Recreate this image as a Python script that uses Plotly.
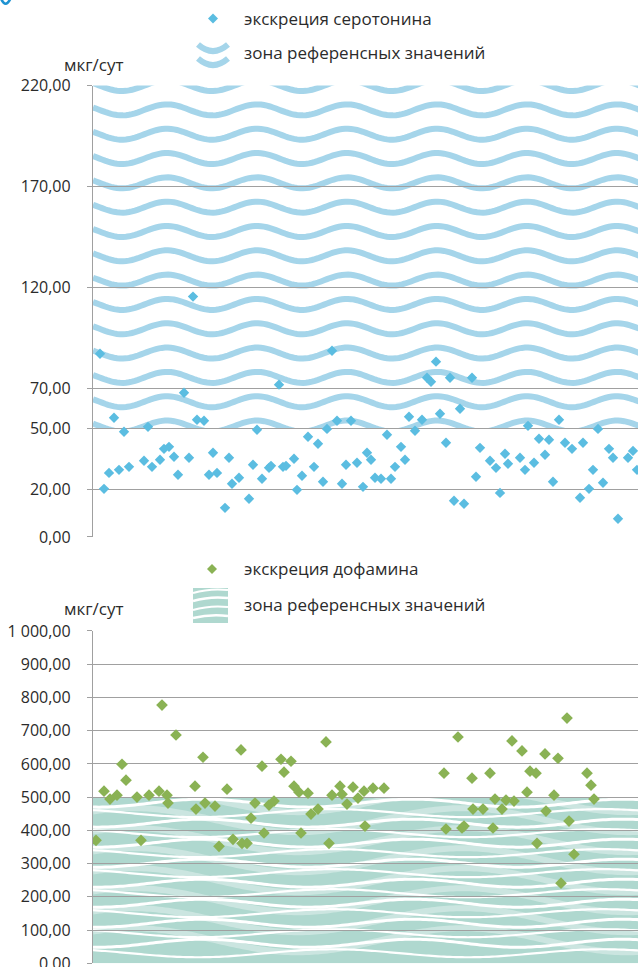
import numpy as np
import plotly.graph_objects as go

W, H = 642, 967          # reference picture size
HF = 990                 # figure height (the page is photographed slightly squeezed)
SQ, OFF = 0.977, 10.5    # observed vertical squeeze and offset of the photograph

# ---------------- data ----------------
# horizontal position of each measurement (patient position along the chart)
ser_x = [7, 11, 16, 21, 26, 31, 36, 51, 55, 59, 67, 71, 76, 81, 85, 91, 96, 100, 104,
         111, 116, 120, 124, 132, 136, 139, 146, 156, 160, 164, 169, 176, 178, 186, 190,
         193, 201, 204, 209, 215, 221, 225, 230, 234, 239, 244, 249, 253, 258, 264, 270,
         274, 278, 282, 288, 294, 298, 302, 308, 312, 316, 322, 329, 334, 338, 343, 347,
         353, 357, 361, 367, 371, 379, 383, 387, 397, 403, 407, 412, 415, 427, 432, 435,
         441, 446, 452, 456, 460, 466, 472, 479, 487, 490, 496, 500, 505, 510, 516, 520,
         525, 535, 540, 544]
ser_y = [87.2, 20.3, 28.2, 55.5, 29.7, 48.6, 31.2, 34.2, 51.0, 31.2, 34.7, 40.1, 41.1,
         36.2, 27.3, 67.9, 35.7, 115.5, 54.5, 54.0, 27.3, 38.2, 28.2, 10.9, 35.7, 22.8,
         25.8, 15.4, 32.2, 49.6, 25.3, 30.7, 31.7, 71.9, 31.2, 31.7, 35.2, 19.8, 26.8,
         46.1, 31.2, 42.6, 23.8, 50.0, 88.7, 54.0, 22.8, 32.2, 54.0, 33.2, 21.3, 38.2,
         34.7, 25.8, 25.3, 47.1, 25.3, 31.2, 41.1, 34.7, 56.0, 49.1, 54.5, 75.3, 73.3,
         83.3, 57.5, 43.1, 75.3, 14.4, 60.0, 12.9, 75.3, 26.3, 40.6, 34.2, 30.7, 18.3,
         37.7, 32.7, 35.7, 29.7, 51.5, 33.2, 45.1, 37.2, 44.6, 23.8, 54.5, 43.1, 40.1,
         15.9, 43.1, 20.3, 29.7, 50.0, 23.3, 40.1, 35.7, 5.5, 35.7, 39.1, 29.7]

dop_x = [3, 11, 17, 24, 29, 33, 44, 48, 56, 66, 69, 74, 75, 83, 102, 103, 110, 112, 122,
         126, 134, 140, 148, 149, 154, 158, 162, 169, 171, 176, 181, 188, 191, 198, 201,
         206, 208, 215, 218, 225, 233, 236, 239, 247, 249, 254, 260, 265, 271, 272, 280,
         291, 351, 353, 365, 369, 371, 379, 380, 390, 397, 400, 402, 409, 413, 419, 421,
         429, 434, 437, 443, 444, 452, 453, 461, 465, 468, 474, 476, 481, 494, 498, 501]
dop_y = [370, 518, 494, 506, 599, 551, 500, 370, 506, 518, 777, 506, 482, 687, 533, 464,
         620, 482, 473, 352, 524, 373, 642, 361, 361, 437, 482, 593, 392, 476, 488, 614,
         575, 608, 533, 515, 392, 512, 449, 464, 666, 361, 506, 533, 509, 479, 530, 497,
         518, 413, 527, 527, 572, 404, 681, 407, 413, 557, 464, 464, 572, 407, 494, 464,
         491, 669, 488, 639, 515, 578, 572, 361, 630, 458, 506, 617, 241, 738, 428, 328,
         572, 536, 494]

ser_tickvals = [-3.5, 20, 50, 70, 120, 170, 220]
ser_ticktext = ["0,00", "20,00", "50,00", "70,00", "120,00", "170,00", "220,00"]
ser_range = [-3.5, 220]
ser_ref = [50, 220]

dop_tickvals = [0, 100, 200, 300, 400, 500, 600, 700, 800, 900, 1000]
dop_ticktext = ["0,00", "100,00", "200,00", "300,00", "400,00", "500,00", "600,00",
                "700,00", "800,00", "900,00", "1 000,00"]
dop_range = [0, 1000]
dop_ref = [0, 500]

x_range = [0, 545]

unit = "мкг/сут"
leg_ser = "экскреция серотонина"
leg_dop = "экскреция дофамина"
leg_zone = "зона референсных значений"

# ---------------- styles ----------------
FONT = "Open Sans"
TXT = "#2b2b2b"
GRID = "#a0a0a0"
BLUE_PT = "#5bbde1"
BLUE_WAVE = "#a5d5ea"
GREEN_PT = "#8ab254"
TEAL = "#afd8cf"


def Y(py):
    """page pixel for a wanted picture pixel"""
    return (py - OFF) / SQ


def yp(py):
    return 1 - Y(py) / HF


def P(px, py):
    return f"{px / W:.5f},{yp(py):.5f}"


def wave_path(center, amp, period, crest, x0, x1, step=3):
    xs = np.arange(x0, x1 + step, step)
    ys = center + amp * np.cos(2 * np.pi * (xs - crest) / period)
    return "M " + " L ".join(f"{a:.2f},{b:.3f}" for a, b in zip(xs, ys))


fig = go.Figure()

fig.add_trace(go.Scatter(
    x=ser_x, y=ser_y, mode="markers", xaxis="x", yaxis="y",
    marker=dict(symbol="diamond", size=8, color=BLUE_PT, line=dict(width=0)),
    showlegend=False, hoverinfo="skip"))
fig.add_trace(go.Scatter(
    x=dop_x, y=dop_y, mode="markers", xaxis="x2", yaxis="y2",
    marker=dict(symbol="diamond", size=9, color=GREEN_PT, line=dict(width=0)),
    showlegend=False, hoverinfo="skip"))

shapes = []
x0, x1 = x_range
# --- top reference zone: blue wavy lines between 50 and 220
top_scale = 451 / (ser_range[1] - ser_range[0])  # picture px per unit
row_step = 24.3 / top_scale
amp_t = 5.5 / top_scale
for k in range(15):
    c = ser_ref[1] - row_step * k
    shapes.append(dict(type="path", xref="x", yref="y", layer="below",
                       path=wave_path(c, amp_t, 90, 74, x0, x1),
                       line=dict(color=BLUE_WAVE, width=6)))
shapes.append(dict(type="rect", xref="x", yref="y", layer="below",
                   x0=x0, x1=x1, y0=ser_range[0], y1=ser_ref[0],
                   fillcolor="white", line=dict(width=0)))

# --- bottom reference zone: teal band with white waves, 0..500
shapes.append(dict(type="rect", xref="x2", yref="y2", layer="below",
                   x0=x0, x1=x1, y0=dop_ref[0], y1=dop_ref[1],
                   fillcolor=TEAL, line=dict(width=0)))
bs = 0.332  # picture px per unit
for k in range(8):
    shapes.append(dict(type="path", xref="x2", yref="y2", layer="below",
                       path=wave_path(dop_ref[1] - 3 / bs - 20 / bs * k, 12 / bs, 330, 40, x0, x1),
                       line=dict(color="rgba(255,255,255,0.35)", width=6)))
for k in range(8):
    shapes.append(dict(type="path", xref="x2", yref="y2", layer="below",
                       path=wave_path(dop_ref[1] - 6 / bs - 20 / bs * k, 4 / bs, 210, 110, x0, x1),
                       line=dict(color="white", width=3)))
for k in range(8):
    shapes.append(dict(type="path", xref="x2", yref="y2", layer="below",
                       path=wave_path(dop_ref[1] - 16 / bs - 20 / bs * k, 4 / bs, 270, 240, x0, x1),
                       line=dict(color="white", width=2.2)))
shapes.append(dict(type="rect", xref="x2", yref="y2", layer="below",
                   x0=x0, x1=x1, y0=dop_ref[1], y1=dop_range[1],
                   fillcolor="white", line=dict(width=0)))

# --- legend symbols (paper coordinates)
shapes.append(dict(type="path", xref="paper", yref="paper",
                   path=f"M {P(213, 13)} L {P(218, 18)} L {P(213, 23)} L {P(208, 18)} Z",
                   fillcolor=BLUE_PT, line=dict(width=0)))
shapes.append(dict(type="path", xref="paper", yref="paper",
                   path=f"M {P(198, 44)} Q {P(213, 57)} {P(228, 44)}",
                   line=dict(color=BLUE_WAVE, width=6)))
shapes.append(dict(type="path", xref="paper", yref="paper",
                   path=f"M {P(198, 58)} Q {P(213, 71)} {P(228, 58)}",
                   line=dict(color=BLUE_WAVE, width=6)))
shapes.append(dict(type="path", xref="paper", yref="paper",
                   path=f"M {P(212, 563)} L {P(217, 568)} L {P(212, 573)} L {P(207, 568)} Z",
                   fillcolor=GREEN_PT, line=dict(width=0)))
shapes.append(dict(type="rect", xref="paper", yref="paper",
                   x0=193 / W, x1=228 / W, y0=yp(622), y1=yp(587),
                   fillcolor=TEAL, line=dict(width=0)))
for a, b, w in [(592, 589, 2), (600, 597, 2.5), (609, 606, 2), (617, 615, 2.5)]:
    shapes.append(dict(type="path", xref="paper", yref="paper",
                       path=f"M {P(193, a)} Q {P(210, b - 2)} {P(228, b)}",
                       line=dict(color="white", width=w)))
# lower part of a blue ring in the top-left corner (cropped glyph)
shapes.append(dict(type="path", xref="paper", yref="paper",
                   path=f"M {P(1.0, -2)} Q {P(5.5, 8.5)} {P(10.5, -2)}",
                   line=dict(color="#1f93d2", width=2.6)))

annotations = []


def txt(s, px, py, anchor="left", size=17):
    annotations.append(dict(text=s, x=px / W, y=yp(py), xref="paper", yref="paper",
                            xanchor=anchor, yanchor="middle", showarrow=False,
                            font=dict(family=FONT, size=size, color=TXT)))


txt(leg_ser, 242, 18)
txt(leg_zone, 242, 52)
txt(unit, 94, 64, "center")
txt(leg_dop, 242, 568)
txt(leg_zone, 242, 604)
txt(unit, 94, 608, "center")

xd = [93 / W, 638 / W]
axis_common = dict(showgrid=True, gridcolor=GRID, gridwidth=1.3, zeroline=False,
                   showline=True, linecolor=GRID, linewidth=1.3, ticks="outside",
                   ticklen=5, tickcolor=GRID, tickwidth=1.3, ticklabelstandoff=13,
                   tickfont=dict(family=FONT, size=16, color=TXT), fixedrange=True)

fig.update_layout(
    width=W, height=HF, autosize=False,
    margin=dict(l=0, r=0, t=0, b=0),
    paper_bgcolor="white", plot_bgcolor="white",
    showlegend=False,
    xaxis=dict(domain=xd, range=x_range, visible=False, anchor="y"),
    yaxis=dict(domain=[yp(536), yp(85)], range=ser_range, anchor="x",
               tickmode="array", tickvals=ser_tickvals, ticktext=ser_ticktext, **axis_common),
    xaxis2=dict(domain=xd, range=x_range, visible=False, anchor="y2"),
    yaxis2=dict(domain=[yp(962), yp(630)], range=dop_range, anchor="x2",
                tickmode="array", tickvals=dop_tickvals, ticktext=dop_ticktext, **axis_common),
    shapes=shapes,
    annotations=annotations,
)

post = ("document.documentElement.style.margin='0';document.body.style.margin='0';"
        "document.body.style.padding='0';document.documentElement.style.overflow='hidden';"
        "var d=document.getElementById('{plot_id}');d.style.position='fixed';"
        "d.style.top='0px';d.style.left='0px';")

fig.write_html("out.html", config={"displayModeBar": False}, post_script=post)
